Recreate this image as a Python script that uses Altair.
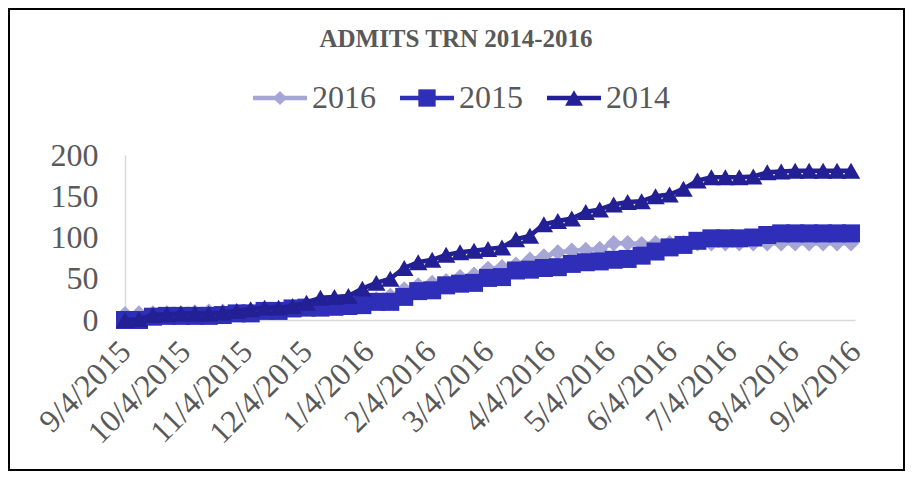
import altair as alt
import pandas as pd

# ---------------- data ----------------
title_text = "ADMITS TRN 2014-2016"
series_names = ["2016", "2015", "2014"]
start_date = "2015-09-04"
n_points = 53  # weekly observations

v2016 = [7, 8, 8, 8, 8, 9, 10, 10, 10, 11,
         12, 13, 15, 16, 17, 18, 20, 22, 25, 29,
         37, 42, 45, 47, 52, 55, 62, 64, 67, 73,
         77, 82, 84, 85, 86, 93, 93, 92, 93, 93,
         93, 93, 93, 93, 93, 93, 93, 93, 93, 93,
         93, 93, 93]
v2015 = [0, 0, 4, 5, 5, 5, 5, 6, 8, 8,
         11, 11, 14, 15, 15, 16, 17, 18, 22, 22,
         28, 35, 36, 42, 44, 45, 51, 52, 60, 61,
         63, 64, 68, 70, 71, 73, 74, 78, 83, 88,
         91, 96, 99, 99, 99, 100, 103, 105, 105, 105,
         105, 105, 105]
v2014 = [0, 1, 6, 7, 8, 8, 8, 9, 11, 13,
         15, 15, 17, 21, 27, 28, 29, 38, 45, 50,
         63, 70, 73, 79, 82, 84, 86, 88, 98, 102,
         116, 120, 123, 131, 134, 140, 143, 144, 150, 152,
         159, 169, 173, 173, 173, 174, 179, 180, 181, 181,
         181, 181, 181]
y_ticks = [0, 50, 100, 150, 200]
# month ticks (year, month) on the 4th
x_tick_months = [(2015, 9), (2015, 10), (2015, 11), (2015, 12), (2016, 1),
                 (2016, 2), (2016, 3), (2016, 4), (2016, 5), (2016, 6),
                 (2016, 7), (2016, 8), (2016, 9)]

# ---------------- styling ----------------
colors = {"2016": "#A5A5D6", "2015": "#2E2EB8", "2014": "#231F94"}
shapes = {"2016": "diamond", "2015": "square", "2014": "triangle-up"}
sizes = {"2016": 270, "2015": 324, "2014": 340}
legend_sizes = {"2016": 200, "2015": 300, "2014": 320}
text_color = "#595959"
serif = "Liberation Serif"

W, H = 730, 165
PAD = {"left": 117, "top": 147, "right": 50, "bottom": 151}

dates = pd.date_range(start_date, periods=n_points, freq="7D").strftime("%Y-%m-%dT00:00:00")
values = {"2016": v2016, "2015": v2015, "2014": v2014}
rows = []
for s in series_names:
    for d, v in zip(dates, values[s]):
        rows.append({"date": d, "value": v, "series": s})
df = pd.DataFrame(rows)

tick_vals = [alt.DateTime(year=y, month=m, date=4) for y, m in x_tick_months]
xscale = alt.Scale(domain=[tick_vals[0], tick_vals[-1]], nice=False)
yscale = alt.Scale(domain=[0, 200], nice=False, zero=True)
xaxis = alt.Axis(values=tick_vals, format="%-m/%-d/%Y", labelAngle=-45,
                 labelAlign="right", labelBaseline="middle", labelPadding=26,
                 ticks=False, tickSize=0, grid=False, title=None,
                 labelOverlap=False, labelFlush=False)
yaxis = alt.Axis(values=y_ticks, ticks=False, tickSize=0, grid=False, title=None,
                 labelPadding=27)

base = alt.Chart(df).encode(
    x=alt.X("date:T", scale=xscale, axis=xaxis),
    y=alt.Y("value:Q", scale=yscale, axis=yaxis),
)

layers = []
for s in series_names:
    sub = base.transform_filter(alt.datum.series == s)
    layers.append(sub.mark_line(color=colors[s], strokeWidth=4.5))
    layers.append(sub.mark_point(shape=shapes[s], filled=True, color=colors[s],
                                 size=sizes[s], opacity=1))

one = pd.DataFrame({"t": [title_text]})
# frame around the whole chart
frame = alt.Chart(one).mark_rect(fillOpacity=0, stroke="black", strokeWidth=2).encode(
    x=alt.value(-PAD["left"] + 1), x2=alt.value(W + PAD["right"] - 1),
    y=alt.value(-PAD["top"] + 1), y2=alt.value(H + PAD["bottom"] - 1),
)
title = alt.Chart(one).mark_text(font=serif, fontSize=25, fontWeight="bold",
                                 color=text_color, align="center",
                                 baseline="alphabetic").encode(
    x=alt.value(331), y=alt.value(-108), text="t:N")

legend_layers = []
leg_y = -57
for i, s in enumerate(series_names):
    x0 = 128 + 147 * i
    ldf = pd.DataFrame({"t": [s]})
    legend_layers.append(alt.Chart(ldf).mark_rule(color=colors[s], strokeWidth=4.5).encode(
        x=alt.value(x0), x2=alt.value(x0 + 54), y=alt.value(leg_y)))
    legend_layers.append(alt.Chart(ldf).mark_point(shape=shapes[s], filled=True, color=colors[s],
                                                   size=legend_sizes[s], opacity=1).encode(
        x=alt.value(x0 + 27), y=alt.value(leg_y)))
    legend_layers.append(alt.Chart(ldf).mark_text(font=serif, fontSize=32, color=text_color,
                                                  align="left", baseline="middle").encode(
        x=alt.value(x0 + 59), y=alt.value(leg_y), text="t:N"))

chart = alt.layer(frame, *layers, title, *legend_layers).properties(
    width=W, height=H,
    padding=PAD,
    autosize=alt.AutoSizeParams(type="none"),
    background="white",
).configure_view(stroke=None).configure_axis(
    domainColor="#D9D9D9", domainWidth=1.5,
    labelColor=text_color, labelFont=serif, labelFontSize=32,
)

chart.save("out.html", embed_options={"renderer": "svg", "actions": False})
